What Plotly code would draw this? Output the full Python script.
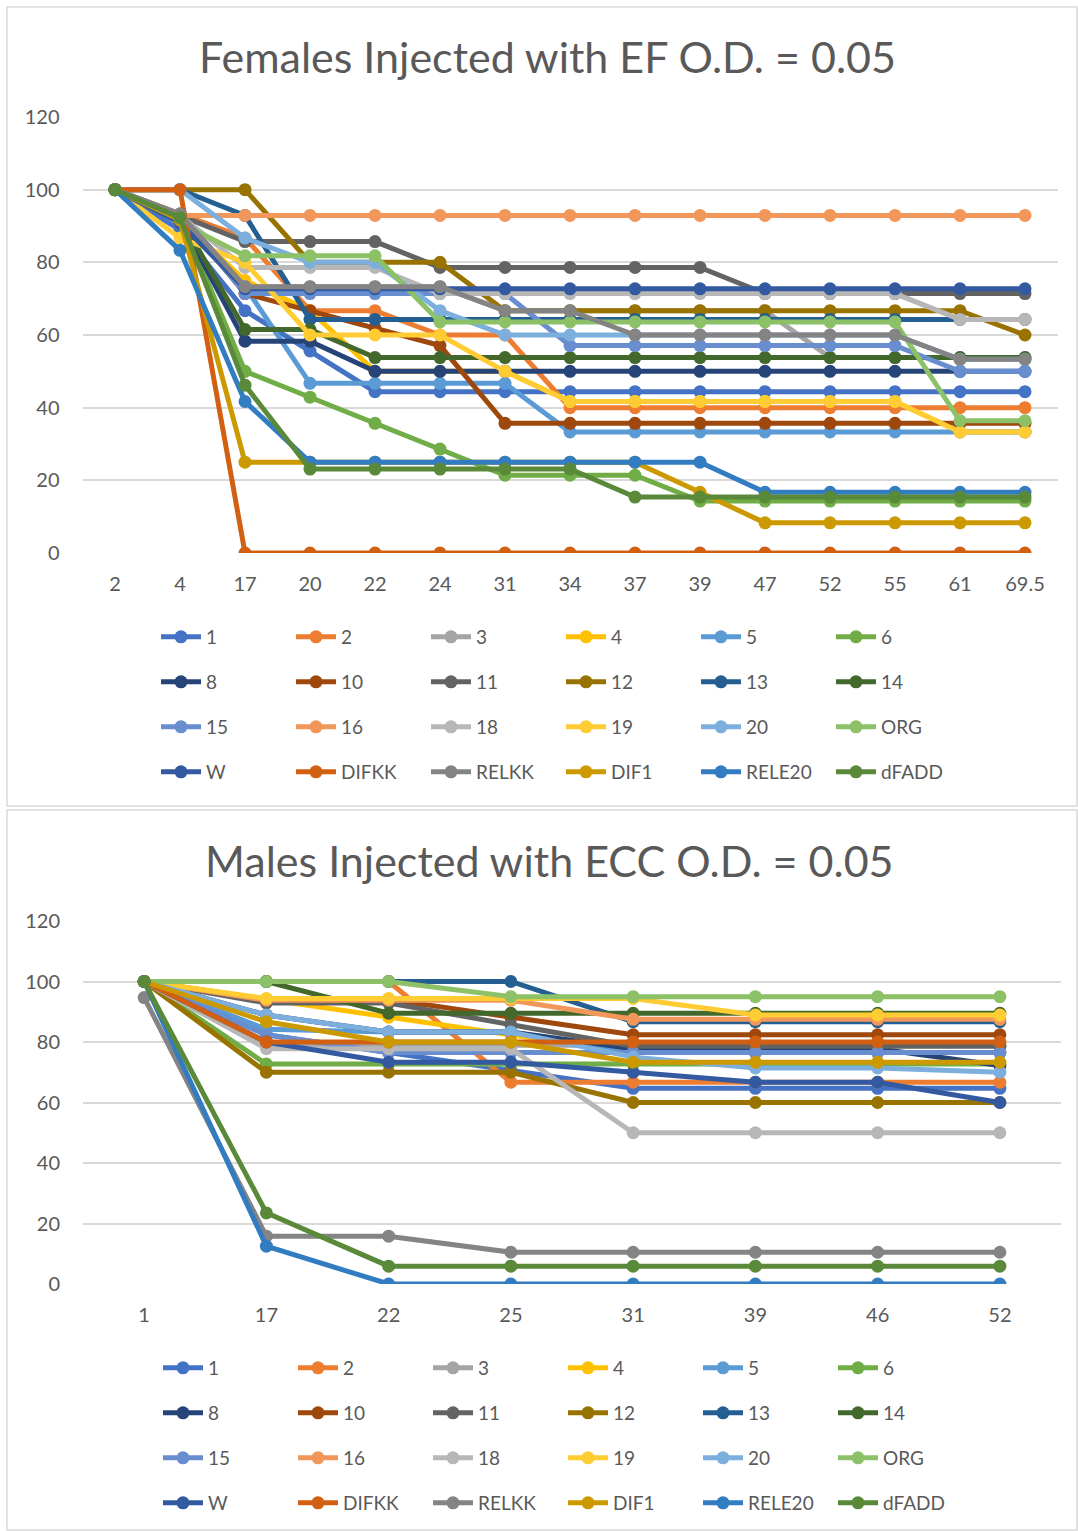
import plotly.graph_objects as go

W_PX, H_PX = 1078, 1531

names = ["1", "2", "3", "4", "5", "6", "8", "10", "11", "12", "13", "14",
         "15", "16", "18", "19", "20", "ORG", "W", "DIFKK", "RELKK", "DIF1", "RELE20", "dFADD"]
colors = ["#4472C4", "#ED7D31", "#A5A5A5", "#FFC000", "#5B9BD5", "#70AD47",
          "#264478", "#9E480E", "#636363", "#997300", "#255E91", "#43682B",
          "#698ED0", "#F1975A", "#B7B7B7", "#FFCD33", "#7CAFDD", "#8CC168",
          "#335AA1", "#D26012", "#848484", "#CC9A00", "#327DC2", "#5A8A39"]

# ---------- Females (top) ----------
cats_f = ["2", "4", "17", "20", "22", "24", "31", "34", "37", "39", "47", "52", "55", "61", "69.5"]
f_1 = [100, 88.9, 66.7, 55.6, 44.4, 44.4, 44.4, 44.4, 44.4, 44.4, 44.4, 44.4, 44.4, 44.4, 44.4]
f_2 = [100, 93.3, 86.7, 66.7, 66.7, 60, 60, 40, 40, 40, 40, 40, 40, 40, 40]
f_3 = [100, 93.3, 73.3, 73.3, 73.3, 73.3, 66.7, 66.7, 66.7, 66.7, 66.7, 53.8, 53.8, 53.8, 53.8]
f_4 = [100, 91.7, 75, 66.7, 50, 50, 50, 41.7, 41.7, 41.7, 41.7, 41.7, 41.7, 33.3, 33.3]
f_5 = [100, 93.3, 73.3, 46.7, 46.7, 46.7, 46.7, 33.3, 33.3, 33.3, 33.3, 33.3, 33.3, 33.3, 33.3]
f_6 = [100, 92.9, 50, 42.9, 35.7, 28.6, 21.4, 21.4, 21.4, 14.3, 14.3, 14.3, 14.3, 14.3, 14.3]
f_8 = [100, 91.7, 58.3, 58.3, 50, 50, 50, 50, 50, 50, 50, 50, 50, 50, 50]
f_10 = [100, 92.9, 71.4, 66.7, 61.9, 57.1, 35.7, 35.7, 35.7, 35.7, 35.7, 35.7, 35.7, 35.7, 35.7]
f_11 = [100, 92.9, 85.7, 85.7, 85.7, 78.6, 78.6, 78.6, 78.6, 78.6, 71.4, 71.4, 71.4, 71.4, 71.4]
f_12 = [100, 100, 100, 80, 80, 80, 66.7, 66.7, 66.7, 66.7, 66.7, 66.7, 66.7, 66.7, 60]
f_13 = [100, 100, 92.9, 64.3, 64.3, 64.3, 64.3, 64.3, 64.3, 64.3, 64.3, 64.3, 64.3, 64.3, 64.3]
f_14 = [100, 92.3, 61.5, 61.5, 53.8, 53.8, 53.8, 53.8, 53.8, 53.8, 53.8, 53.8, 53.8, 53.8, 53.8]
f_15 = [100, 92.9, 71.4, 71.4, 71.4, 71.4, 71.4, 57.1, 57.1, 57.1, 57.1, 57.1, 57.1, 50, 50]
f_16 = [100, 92.9, 92.9, 92.9, 92.9, 92.9, 92.9, 92.9, 92.9, 92.9, 92.9, 92.9, 92.9, 92.9, 92.9]
f_18 = [100, 92.9, 78.6, 78.6, 78.6, 71.4, 71.4, 71.4, 71.4, 71.4, 71.4, 71.4, 71.4, 64.3, 64.3]
f_19 = [100, 86.7, 80, 60, 60, 60, 50, 41.7, 41.7, 41.7, 41.7, 41.7, 41.7, 33.3, 33.3]
f_20 = [100, 100, 86.7, 80, 80, 66.7, 60, 60, 60, 60, 60, 60, 60, 53.3, 53.3]
f_org = [100, 90.9, 81.8, 81.8, 81.8, 63.6, 63.6, 63.6, 63.6, 63.6, 63.6, 63.6, 63.6, 36.4, 36.4]
f_w = [100, 90.9, 72.7, 72.7, 72.7, 72.7, 72.7, 72.7, 72.7, 72.7, 72.7, 72.7, 72.7, 72.7, 72.7]
f_difkk = [100, 100, 0, 0, 0, 0, 0, 0, 0, 0, 0, 0, 0, 0, 0]
f_relkk = [100, 93.3, 73.3, 73.3, 73.3, 73.3, 66.7, 66.7, 60, 60, 60, 60, 60, 53.3, 53.3]
f_dif1 = [100, 91.7, 25, 25, 25, 25, 25, 25, 25, 16.7, 8.3, 8.3, 8.3, 8.3, 8.3]
f_rele20 = [100, 83.3, 41.7, 25, 25, 25, 25, 25, 25, 25, 16.7, 16.7, 16.7, 16.7, 16.7]
f_dfadd = [100, 92.3, 46.2, 23.1, 23.1, 23.1, 23.1, 23.1, 15.4, 15.4, 15.4, 15.4, 15.4, 15.4, 15.4]
females = [f_1, f_2, f_3, f_4, f_5, f_6, f_8, f_10, f_11, f_12, f_13, f_14,
           f_15, f_16, f_18, f_19, f_20, f_org, f_w, f_difkk, f_relkk, f_dif1, f_rele20, f_dfadd]

# ---------- Males (bottom) ----------
cats_m = ["1", "17", "22", "25", "31", "39", "46", "52"]
m_1 = [100, 82.4, 76.5, 70.6, 64.7, 64.7, 64.7, 64.7]
m_2 = [100, 100, 100, 66.7, 66.7, 66.7, 66.7, 66.7]
m_3 = [100, 78.9, 78.9, 78.9, 78.9, 78.9, 78.9, 78.9]
m_4 = [100, 94.1, 88.2, 82.4, 76.5, 76.5, 76.5, 76.5]
m_5 = [100, 84.2, 83.3, 83.3, 76.5, 76.5, 76.5, 76.5]
m_6 = [100, 72.7, 72.7, 72.7, 72.7, 72.7, 72.7, 72.7]
m_8 = [100, 88.9, 83.3, 83.3, 77.8, 77.8, 77.8, 72.2]
m_10 = [100, 94.1, 94.1, 88.2, 82.4, 82.4, 82.4, 82.4]
m_11 = [100, 92.9, 92.9, 85.7, 78.6, 78.6, 78.6, 78.6]
m_12 = [100, 70, 70, 70, 60, 60, 60, 60]
m_13 = [100, 100, 100, 100, 86.7, 86.7, 86.7, 86.7]
m_14 = [100, 100, 89.5, 89.5, 89.5, 89.5, 89.5, 89.5]
m_15 = [100, 82.4, 76.5, 76.5, 76.5, 76.5, 76.5, 76.5]
m_16 = [100, 93.8, 93.8, 93.8, 87.5, 87.5, 87.5, 87.5]
m_18 = [100, 77.8, 77.8, 77.8, 50, 50, 50, 50]
m_19 = [100, 94.4, 94.4, 94.4, 94.4, 88.9, 88.9, 88.9]
m_20 = [100, 88.9, 83.3, 83.3, 75, 71.4, 71.4, 70]
m_org = [100, 100, 100, 95, 95, 95, 95, 95]
m_w = [100, 80, 73.3, 73.3, 70, 66.7, 66.7, 60]
m_difkk = [100, 80, 80, 80, 80, 80, 80, 80]
m_relkk = [94.7, 15.8, 15.8, 10.5, 10.5, 10.5, 10.5, 10.5]
m_dif1 = [100, 86.7, 80, 80, 73.3, 73.3, 73.3, 73.3]
m_rele20 = [100, 12.5, 0, 0, 0, 0, 0, 0]
m_dfadd = [100, 23.5, 5.9, 5.9, 5.9, 5.9, 5.9, 5.9]
males = [m_1, m_2, m_3, m_4, m_5, m_6, m_8, m_10, m_11, m_12, m_13, m_14,
         m_15, m_16, m_18, m_19, m_20, m_org, m_w, m_difkk, m_relkk, m_dif1, m_rele20, m_dfadd]

y_ticks = [0, 20, 40, 60, 80, 100, 120]
title_top = "Females Injected with EF O.D. = 0.05"
title_bot = "Males Injected with ECC O.D. = 0.05"

FONT = "Lato"
TXT = "#595959"
GRID = "#D9D9D9"


def py(px):
    return 1 - px / H_PX


def pxx(px):
    return px / W_PX


fig = go.Figure()

panels = [
    dict(cats=cats_f, data=females, xa="x", ya="y", legend_start=1),
    dict(cats=cats_m, data=males, xa="x2", ya="y2", legend_start=5),
]
for p in panels:
    for i, (nm, col, vals) in enumerate(zip(names, colors, p["data"])):
        row = i // 6
        lg = p["legend_start"] + row
        fig.add_trace(go.Scatter(
            x=p["cats"], y=vals, name=nm, mode="lines+markers",
            line=dict(color=col, width=5),
            marker=dict(color=col, size=13),
            xaxis=p["xa"], yaxis=p["ya"],
            legend="legend" if lg == 1 else f"legend{lg}",
            hoverinfo="skip",
        ))

axis_font = dict(family=FONT, size=20, color=TXT)
common_y = dict(range=[0, 120], tickvals=y_ticks, showgrid=True, gridcolor=GRID,
                gridwidth=1.5, zeroline=False, showline=False, ticks="",
                tickfont=axis_font, ticklabelstandoff=22, fixedrange=True, automargin=False)
common_x = dict(type="category", showgrid=False, zeroline=False, showline=False,
                ticks="", tickfont=axis_font, ticklabelstandoff=17, fixedrange=True,
                automargin=False)

layout = dict(
    width=W_PX, height=H_PX, autosize=False,
    margin=dict(l=0, r=0, t=0, b=0, pad=0, autoexpand=False),
    paper_bgcolor="white", plot_bgcolor="white",
    xaxis=dict(domain=[pxx(82.5), pxx(1057.5)], anchor="y", range=[-0.5, 14.5], **common_x),
    yaxis=dict(domain=[py(553), py(117)], anchor="x", **common_y),
    xaxis2=dict(domain=[pxx(83), pxx(1061)], anchor="y2", range=[-0.5, 7.5], **common_x),
    yaxis2=dict(domain=[py(1284), py(921)], anchor="x2", **common_y),
    showlegend=True,
)

legend_rows_top = [637, 682, 727, 772]
legend_rows_bot = [1368, 1413, 1458, 1503]
for k in range(8):
    if k < 4:
        ypx = legend_rows_top[k]
        x0 = 156
    else:
        ypx = legend_rows_bot[k - 4]
        x0 = 158
    key = "legend" if k == 0 else f"legend{k + 1}"
    layout[key] = dict(
        orientation="h", x=pxx(x0), xanchor="left", y=py(ypx), yanchor="middle",
        entrywidth=80, entrywidthmode="pixels", itemwidth=40,
        font=dict(family=FONT, size=19, color=TXT),
        bgcolor="rgba(0,0,0,0)", traceorder="normal", itemclick=False, itemdoubleclick=False,
    )

fig.update_layout(**layout)

fig.add_annotation(text=title_top, x=pxx(547), y=py(57), xref="paper", yref="paper",
                   showarrow=False, font=dict(family=FONT, size=43, color=TXT),
                   xanchor="center", yanchor="middle")
fig.add_annotation(text=title_bot, x=pxx(549), y=py(860), xref="paper", yref="paper",
                   showarrow=False, font=dict(family=FONT, size=43, color=TXT),
                   xanchor="center", yanchor="middle")

# chart borders
fig.add_shape(type="rect", xref="paper", yref="paper", x0=pxx(7), x1=pxx(1077),
              y0=py(806), y1=py(7), line=dict(color=GRID, width=1.5))
fig.add_shape(type="rect", xref="paper", yref="paper", x0=pxx(7), x1=pxx(1077),
              y0=py(1530), y1=py(810), line=dict(color=GRID, width=1.5))

fig.write_html(
    "out.html",
    post_script="document.documentElement.style.margin='0';document.body.style.margin='0';"
                "document.body.style.overflow='hidden';",
)
